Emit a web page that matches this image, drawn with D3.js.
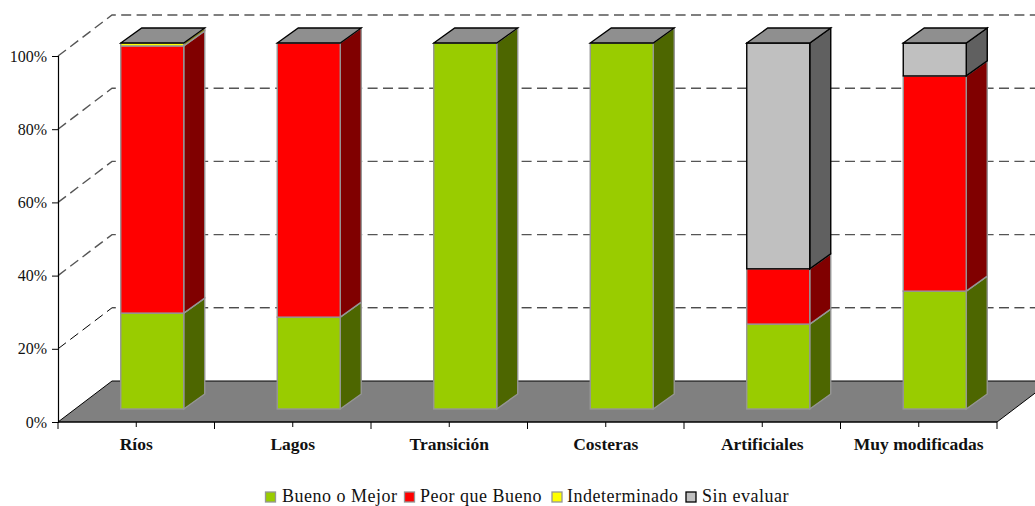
<!DOCTYPE html>
<html lang="es">
<head>
<meta charset="utf-8">
<title>Estado de las masas de agua</title>
<script src="https://cdn.jsdelivr.net/npm/d3@7"></script>
<style>
  html, body { margin: 0; padding: 0; background: #fff; }
  svg { display: block; }
  text { font-family: "Liberation Serif", serif; fill: #111; }
</style>
</head>
<body>
<svg id="chart" width="1035" height="506"></svg>
<script>
// Chart values (percentages per water-body type)
const categories = ["Ríos", "Lagos", "Transición", "Costeras", "Artificiales", "Muy modificadas"];
const seriesNames = ["Bueno o Mejor", "Peor que Bueno", "Indeterminado", "Sin evaluar"];
const buenoOMejor = [26.2, 25.1, 100, 100, 23.2, 32.2];
const peorQueBueno = [73.0, 74.9, 0, 0, 15.1, 58.8];
const indeterminado = [0.8, 0, 0, 0, 0, 0];
const sinEvaluar = [0, 0, 0, 0, 61.7, 9.0];
const yTicks = [0, 20, 40, 60, 80, 100];

// Face colours for each series
const frontColors = ["#99cc00", "#ff0000", "#ffff00", "#c0c0c0"];
const sideColors = ["#4d6600", "#800000", "#808000", "#606060"];
const edgeColors = ["#969696", "#969696", "#969696", "#000000"];

const svg = d3.select("#chart");

// Oblique projection of the 3-D box
const wallDx = 54, wallDy = -41;    // front plane to back wall
const barDx = 21, barDy = -15;      // depth of one bar
const barShift = 16, barLift = 13;  // bars stand inside the floor

const x = d3.scaleBand().domain(categories).range([58, 997]);
const yFront = d3.scaleLinear().domain([0, 100]).range([422, 56]);
const yBar = d3.scaleLinear().domain([0, 100]).range([422 - barLift, 56 - barLift]);
const barWidth = 63;

const [x0, x1] = x.range();
const base = yFront(0);

// Back wall gridlines and their diagonal continuation on the side wall
const grid = svg.append("g");
yTicks.filter(t => t > 0).forEach(t => {
  const y = yFront(t);
  const upper = t > 20;
  grid.append("path")
    .attr("d", `M${x0},${y}L${x0 + wallDx},${y + wallDy}L1035,${y + wallDy}`)
    .attr("fill", "none")
    .attr("stroke", upper ? "#555" : "#000")
    .attr("stroke-width", upper ? 1.4 : 1)
    .attr("stroke-dasharray", "10 5.4");
});

// Floor
svg.append("path")
  .attr("d", `M${x0},${base}L${x0 + wallDx},${base + wallDy}L${x1 + wallDx},${base + wallDy}L${x1},${base}Z`)
  .attr("fill", "#808080");
svg.append("path")
  .attr("d", `M${x0},${base}L${x0 + wallDx},${base + wallDy}L${x1 + wallDx},${base + wallDy}M${x1},${base}L${x1 + wallDx},${base + wallDy}`)
  .attr("fill", "none").attr("stroke", "#000").attr("stroke-width", 1);

// Axes
const yAxis = d3.axisLeft(yFront).tickValues(yTicks).tickFormat(d => d + "%").tickSize(6).tickPadding(5);
const yG = svg.append("g").attr("transform", `translate(${x0},0)`).call(yAxis);
yG.select(".domain").attr("stroke", "#000").attr("stroke-width", 1.2);
yG.selectAll("text").attr("font-size", 16).attr("font-family", "Liberation Serif").attr("fill", "#111");

const xAxis = d3.axisBottom(x).tickSize(0).tickPadding(15.5);
const xG = svg.append("g").attr("transform", `translate(0,${base})`).call(xAxis);
xG.select(".domain").attr("stroke", "#000").attr("stroke-width", 1.6).attr("d", `M${x0},0H${x1}`);
xG.selectAll("text").attr("font-size", 17.5).attr("font-weight", "bold")
  .attr("font-family", "Liberation Serif").attr("fill", "#111");

// Long tick marks between categories, short ones at category centres
const tickG = svg.append("g").attr("stroke", "#000").attr("stroke-width", 1);
categories.forEach((c, i) => {
  tickG.append("line").attr("x1", x(c)).attr("x2", x(c)).attr("y1", base).attr("y2", base + 7);
  const mid = x(c) + x.bandwidth() / 2;
  tickG.append("line").attr("x1", mid).attr("x2", mid).attr("y1", base).attr("y2", base + 5);
  if (i === categories.length - 1) {
    tickG.append("line").attr("x1", x1).attr("x2", x1).attr("y1", base).attr("y2", base + 7);
  }
});

// Stacked bars
const table = categories.map((c, i) => ({
  cat: c, s0: buenoOMejor[i], s1: peorQueBueno[i], s2: indeterminado[i], s3: sinEvaluar[i]
}));
const stacked = d3.stack().keys(["s0", "s1", "s2", "s3"])(table);

const bars = svg.append("g");
categories.forEach((c, i) => {
  const left = x(c) + x.bandwidth() / 2 + barShift - barWidth / 2;
  const right = left + barWidth;
  const g = bars.append("g");
  stacked.forEach((layer, k) => {
    const [v0, v1] = layer[i];
    if (v1 - v0 <= 0) return;
    const yb = yBar(v0), yt = yBar(v1);
    g.append("path")
      .attr("d", `M${right},${yb}L${right + barDx},${yb + barDy}L${right + barDx},${yt + barDy}L${right},${yt}Z`)
      .attr("fill", sideColors[k]).attr("stroke", edgeColors[k]).attr("stroke-width", 1.4);
    g.append("rect")
      .attr("x", left).attr("y", yt).attr("width", barWidth).attr("height", yb - yt)
      .attr("fill", frontColors[k]).attr("stroke", edgeColors[k]).attr("stroke-width", 1.4);
  });
  // Lid of the stack
  const yTop = yBar(100);
  g.append("path")
    .attr("d", `M${left},${yTop}L${left + barDx},${yTop + barDy}L${right + barDx},${yTop + barDy}L${right},${yTop}Z`)
    .attr("fill", "#8f8f8f").attr("stroke", "#000").attr("stroke-width", 1.3);
});

// Legend
const legendSwatchX = [265.5, 404.5, 552, 686];
const legendTextX = [282, 420, 567, 702];
const legend = svg.append("g");
seriesNames.forEach((name, k) => {
  legend.append("rect")
    .attr("x", legendSwatchX[k]).attr("y", 492).attr("width", 10).attr("height", 10)
    .attr("fill", frontColors[k])
    .attr("stroke", k === 3 ? "#000" : "#969696").attr("stroke-width", 1.3);
  legend.append("text")
    .attr("x", legendTextX[k]).attr("y", 502)
    .attr("font-size", 18).attr("letter-spacing", 0.5).text(name);
});
</script>
</body>
</html>
